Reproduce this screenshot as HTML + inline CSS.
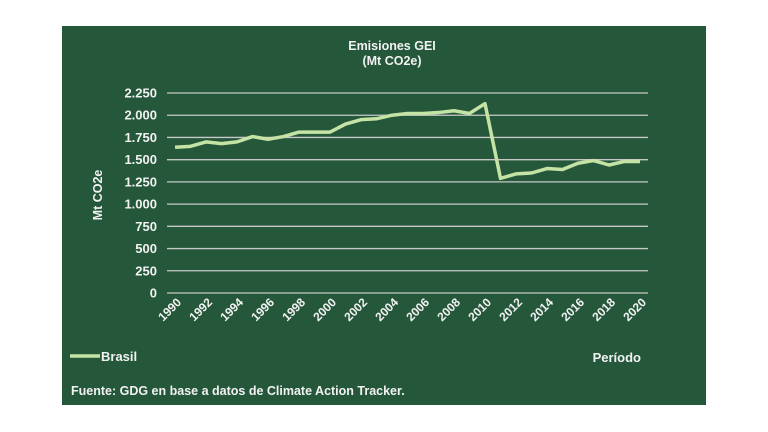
<!DOCTYPE html>
<html><head><meta charset="utf-8"><style>
body{margin:0;width:768px;height:432px;background:#fff;overflow:hidden}
svg{display:block}
text{font-family:"Liberation Sans",sans-serif;font-weight:bold;fill:#f2f2f2}
</style></head><body>
<svg width="768" height="432">
<rect x="62" y="26" width="644" height="379" fill="#25573a"/>
<text x="392" y="50" font-size="12.5" text-anchor="middle">Emisiones GEI</text>
<text x="392" y="65" font-size="12.5" text-anchor="middle">(Mt CO2e)</text>
<text transform="translate(102,195) rotate(-90)" font-size="12.5" text-anchor="middle">Mt CO2e</text>
<g id="grid"></g><g id="xt"></g>
<path id="line" fill="none" stroke="#c6e3a6" stroke-width="3.5" stroke-linejoin="round"/>
<line x1="70" y1="356" x2="100" y2="356" stroke="#c6e3a6" stroke-width="3.5"/>
<text x="101" y="361" font-size="13">Brasil</text>
<text x="641" y="362" font-size="13" text-anchor="end">Período</text>
<text x="71" y="395" font-size="12.5">Fuente: GDG en base a datos de Climate Action Tracker.</text>
</svg>
<script>
const years=[1990,1991,1992,1993,1994,1995,1996,1997,1998,1999,2000,2001,2002,2003,2004,2005,2006,2007,2008,2009,2010,2011,2012,2013,2014,2015,2016,2017,2018,2019,2020];
const brasil=[1640,1650,1700,1680,1700,1760,1730,1760,1810,1810,1810,1900,1950,1960,2000,2020,2020,2030,2050,2020,2130,1290,1340,1350,1400,1390,1460,1490,1440,1480,1480];
const yTicks=[0,250,500,750,1000,1250,1500,1750,2000,2250];
const yTickLabels=["0","250","500","750","1.000","1.250","1.500","1.750","2.000","2.250"];
const xTickYears=[1990,1992,1994,1996,1998,2000,2002,2004,2006,2008,2010,2012,2014,2016,2018,2020];
const NS="http://www.w3.org/2000/svg";
const y=v=>293-v*200/2250;
const x=yr=>175+(yr-1990)*(640-175)/30;
const g=document.getElementById('grid');
yTicks.forEach((t,i)=>{
 const l=document.createElementNS(NS,'line');
 l.setAttribute('x1',167);l.setAttribute('x2',648);l.setAttribute('y1',y(t));l.setAttribute('y2',y(t));
 l.setAttribute('stroke','#c8c8c8');l.setAttribute('stroke-width','1.3');
 
 
 g.appendChild(l);
 const tx=document.createElementNS(NS,'text');
 tx.setAttribute('x',157);tx.setAttribute('y',y(t)+4.5);tx.setAttribute('font-size','13');tx.setAttribute('text-anchor','end');
 tx.textContent=yTickLabels[i];
 
 
 g.appendChild(tx);
});
const xt=document.getElementById('xt');
xTickYears.forEach(yr=>{
 const tx=document.createElementNS(NS,'text');
 tx.setAttribute('transform',`translate(${x(yr)+7},${303}) rotate(-45)`);
 tx.setAttribute('font-size','12');tx.setAttribute('text-anchor','end');
 tx.textContent=yr;
 
 
 xt.appendChild(tx);
});
document.getElementById('line').setAttribute('d',years.map((yr,i)=>(i?'L':'M')+x(yr)+','+y(brasil[i])).join(''));
</script>
</body></html>
